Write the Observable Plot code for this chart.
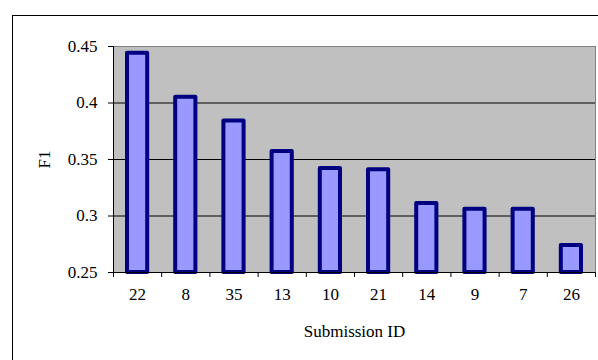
<!DOCTYPE html>
<html>
<head>
<meta charset="utf-8">
<script src="https://cdn.jsdelivr.net/npm/d3@7"></script>
<script src="https://cdn.jsdelivr.net/npm/@observablehq/plot@0.6"></script>
<style>
  html, body { margin: 0; padding: 0; background: #fff; }
  #wrap { position: relative; width: 598px; height: 360px; overflow: hidden; }
  #border { position: absolute; left: 12px; top: 15px; width: 700px; height: 500px;
            border-left: 1px solid #000; border-top: 1px solid #000; }
  #chart { position: absolute; left: 0; top: 0; }
  #chart svg text { font-family: 'Liberation Serif', 'Times New Roman', serif; }
</style>
</head>
<body>
<div id="wrap"><div id="border"></div><div id="chart"></div></div>
<script>
// F1 score per submission, sorted from best to worst
const submissionIds = ["22", "8", "35", "13", "10", "21", "14", "9", "7", "26"];
const f1Scores = [0.444, 0.405, 0.384, 0.357, 0.342, 0.341, 0.311, 0.306, 0.306, 0.274];
const yTicks = [0.25, 0.3, 0.35, 0.4, 0.45];
const yMin = 0.25, yMax = 0.45;

const rows = submissionIds.map((id, i) => ({id, i, f1: f1Scores[i]}));
const n = rows.length;
const fs = 17;

const chart = Plot.plot({
  width: 598,
  height: 360,
  marginLeft: 113,
  marginTop: 46,
  marginRight: 3,
  marginBottom: 88,
  style: {fontFamily: "'Liberation Serif', 'Times New Roman', serif", fontSize: "17px", color: "#000", background: "transparent"},
  x: {type: "linear", domain: [0, n]},
  y: {domain: [yMin, yMax]},
  marks: [
    Plot.frame({fill: "#c0c0c0", stroke: "#808080", strokeWidth: 1}),
    Plot.ruleY(yTicks.filter(v => v > yMin && v < yMax), {stroke: "#000", strokeWidth: 1}),
    Plot.rectY(rows, {
      x1: "i", x2: d => d.i + 1, y1: yMin, y2: "f1",
      insetLeft: 14, insetRight: 14,
      fill: "#9999ff", stroke: "#000080", strokeWidth: 4, strokeLinejoin: "round"
    }),
    Plot.ruleX([0], {stroke: "#000"}),
    Plot.ruleY([yMin], {stroke: "#000"}),
    // tick marks at the category boundaries
    Plot.axisX({ticks: d3.range(n + 1), tickSize: 5, tickFormat: () => "", label: null}),
    // category labels centred in each slot
    Plot.axisX({ticks: d3.range(n).map(i => i + 0.5), tickSize: 0, tickPadding: 15, fontSize: fs,
      tickFormat: v => submissionIds[Math.floor(v)], label: "Submission ID",
      labelAnchor: "center", labelArrow: "none", labelOffset: 64}),
    Plot.axisY({ticks: yTicks, tickSize: 5, tickPadding: 11, fontSize: fs, tickFormat: d => String(d),
      label: "F1", labelAnchor: "center", labelArrow: "none", labelOffset: 76})
  ]
});
document.getElementById("chart").appendChild(chart);
</script>
</body>
</html>
